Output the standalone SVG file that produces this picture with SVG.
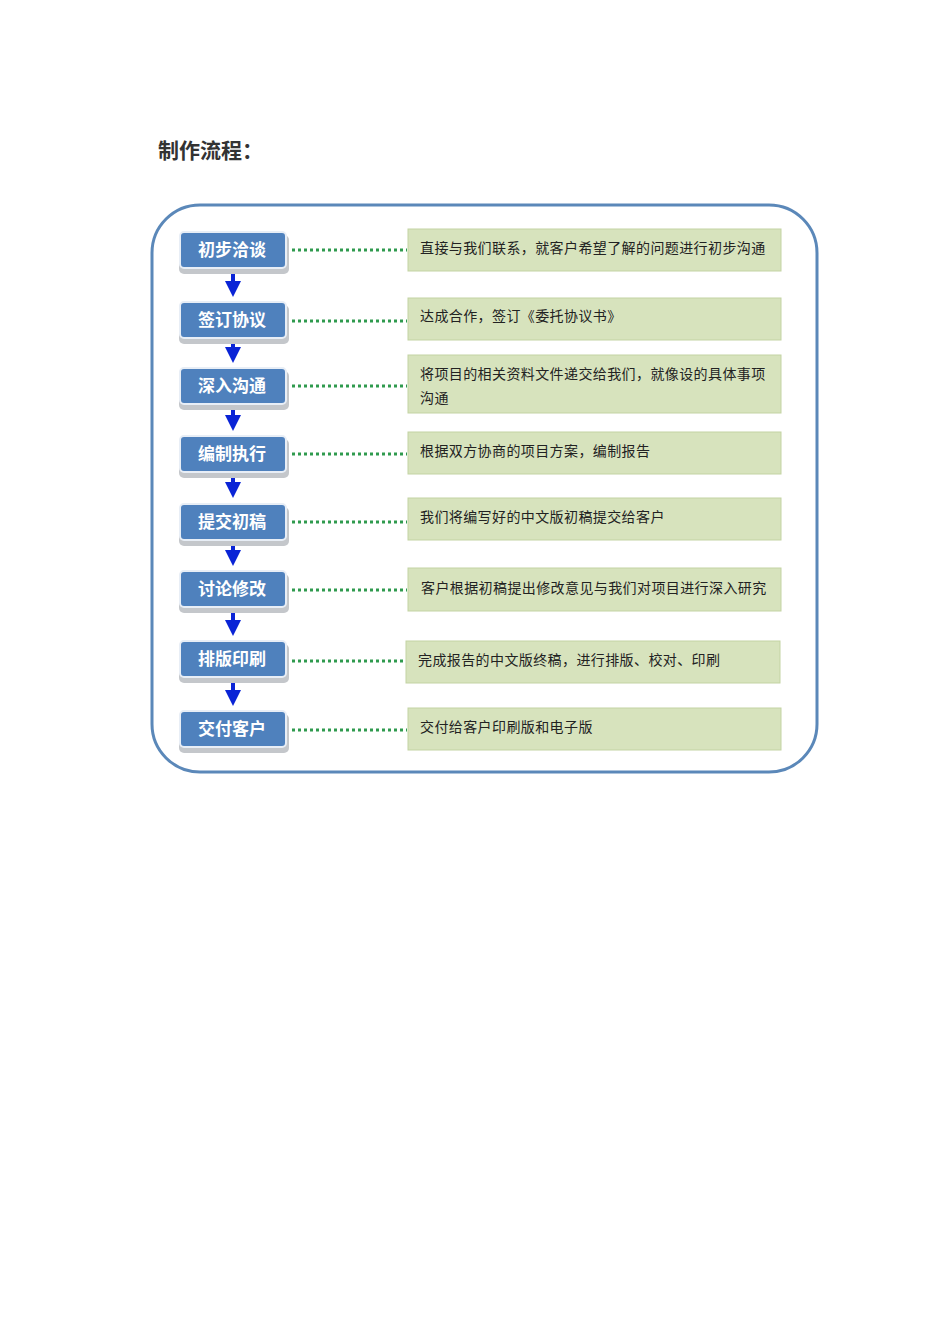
<svg xmlns="http://www.w3.org/2000/svg" width="950" height="1344" viewBox="0 0 950 1344">
<defs>
<style>
.title{font-family:"Noto Sans CJK SC","Liberation Sans",sans-serif;font-size:21px;font-weight:bold;fill:#333}
.nbox{fill:#4f81bd;stroke:#e8eef6;stroke-width:2}
.nsh{fill:#c4c7cb}
.ntxt{font-family:"Noto Sans CJK SC","Liberation Sans",sans-serif;font-size:17px;font-weight:bold;fill:#fff;text-anchor:middle}
.dbox{fill:#d7e3bd;stroke:#c3d3a3;stroke-width:1}
.dtxt{font-family:"Noto Sans CJK SC","Liberation Sans",sans-serif;font-size:14px;fill:#222;letter-spacing:0.4px}
.dot{stroke:#2f9a4e;stroke-width:3;stroke-dasharray:3 3;fill:none}
.arr{stroke:#0a24d6;stroke-width:4;fill:none}
</style>
<marker id="ah" markerWidth="4" markerHeight="4" refX="2" refY="2" orient="auto" markerUnits="strokeWidth">
<path d="M0,0 L4,2 L0,4 Z" fill="#0a24d6"/>
</marker>
</defs>
<rect width="950" height="1344" fill="#fff"/>
<text class="title" x="158" y="158">制作流程：</text>
<rect x="152" y="205" width="665" height="567" rx="48" ry="48" fill="#fff" stroke="#5b88b9" stroke-width="3"/>

<g id="connectors">
<line class="arr" x1="233" y1="270" x2="233" y2="289" marker-end="url(#ah)"/>
<line class="arr" x1="233" y1="340" x2="233" y2="355" marker-end="url(#ah)"/>
<line class="arr" x1="233" y1="406" x2="233" y2="423" marker-end="url(#ah)"/>
<line class="arr" x1="233" y1="474" x2="233" y2="490" marker-end="url(#ah)"/>
<line class="arr" x1="233" y1="542" x2="233" y2="558" marker-end="url(#ah)"/>
<line class="arr" x1="233" y1="609" x2="233" y2="628" marker-end="url(#ah)"/>
<line class="arr" x1="233" y1="679" x2="233" y2="698" marker-end="url(#ah)"/>
<line class="dot" x1="292" y1="250" x2="407" y2="250"/>
<line class="dot" x1="292" y1="321" x2="407" y2="321"/>
<line class="dot" x1="292" y1="386" x2="407" y2="386"/>
<line class="dot" x1="292" y1="454" x2="407" y2="454"/>
<line class="dot" x1="292" y1="522" x2="407" y2="522"/>
<line class="dot" x1="292" y1="590" x2="407" y2="590"/>
<line class="dot" x1="292" y1="661" x2="405" y2="661"/>
<line class="dot" x1="292" y1="730" x2="407" y2="730"/>
</g>

<g id="n1"><rect class="nsh" x="179" y="235" width="110" height="39" rx="5"/><rect class="nbox" x="180" y="232" width="106" height="36" rx="4"/><text class="ntxt" x="232" y="256">初步洽谈</text></g>
<g id="n2"><rect class="nsh" x="179" y="305" width="110" height="39" rx="5"/><rect class="nbox" x="180" y="302" width="106" height="36" rx="4"/><text class="ntxt" x="232" y="326">签订协议</text></g>
<g id="n3"><rect class="nsh" x="179" y="371" width="110" height="39" rx="5"/><rect class="nbox" x="180" y="368" width="106" height="36" rx="4"/><text class="ntxt" x="232" y="392">深入沟通</text></g>
<g id="n4"><rect class="nsh" x="179" y="439" width="110" height="39" rx="5"/><rect class="nbox" x="180" y="436" width="106" height="36" rx="4"/><text class="ntxt" x="232" y="460">编制执行</text></g>
<g id="n5"><rect class="nsh" x="179" y="507" width="110" height="39" rx="5"/><rect class="nbox" x="180" y="504" width="106" height="36" rx="4"/><text class="ntxt" x="232" y="528">提交初稿</text></g>
<g id="n6"><rect class="nsh" x="179" y="574" width="110" height="39" rx="5"/><rect class="nbox" x="180" y="571" width="106" height="36" rx="4"/><text class="ntxt" x="232" y="595">讨论修改</text></g>
<g id="n7"><rect class="nsh" x="179" y="644" width="110" height="39" rx="5"/><rect class="nbox" x="180" y="641" width="106" height="36" rx="4"/><text class="ntxt" x="232" y="665">排版印刷</text></g>
<g id="n8"><rect class="nsh" x="179" y="714" width="110" height="39" rx="5"/><rect class="nbox" x="180" y="711" width="106" height="36" rx="4"/><text class="ntxt" x="232" y="735">交付客户</text></g>

<g id="d1"><rect class="dbox" x="408" y="229" width="373" height="42"/><text class="dtxt" x="420" y="253">直接与我们联系，就客户希望了解的问题进行初步沟通</text></g>
<g id="d2"><rect class="dbox" x="408" y="298" width="373" height="42"/><text class="dtxt" x="420" y="321">达成合作，签订《委托协议书》</text></g>
<g id="d3"><rect class="dbox" x="408" y="355" width="373" height="58"/><text class="dtxt" x="420" y="379">将项目的相关资料文件递交给我们，就像设的具体事项</text><text class="dtxt" x="420" y="403">沟通</text></g>
<g id="d4"><rect class="dbox" x="408" y="432" width="373" height="42"/><text class="dtxt" x="420" y="456">根据双方协商的项目方案，编制报告</text></g>
<g id="d5"><rect class="dbox" x="408" y="498" width="373" height="42"/><text class="dtxt" x="420" y="522">我们将编写好的中文版初稿提交给客户</text></g>
<g id="d6"><rect class="dbox" x="408" y="568" width="373" height="43"/><text class="dtxt" x="421" y="593">客户根据初稿提出修改意见与我们对项目进行深入研究</text></g>
<g id="d7"><rect class="dbox" x="406" y="641" width="374" height="42"/><text class="dtxt" x="418" y="665">完成报告的中文版终稿，进行排版、校对、印刷</text></g>
<g id="d8"><rect class="dbox" x="408" y="708" width="373" height="42"/><text class="dtxt" x="420" y="732">交付给客户印刷版和电子版</text></g>
</svg>
